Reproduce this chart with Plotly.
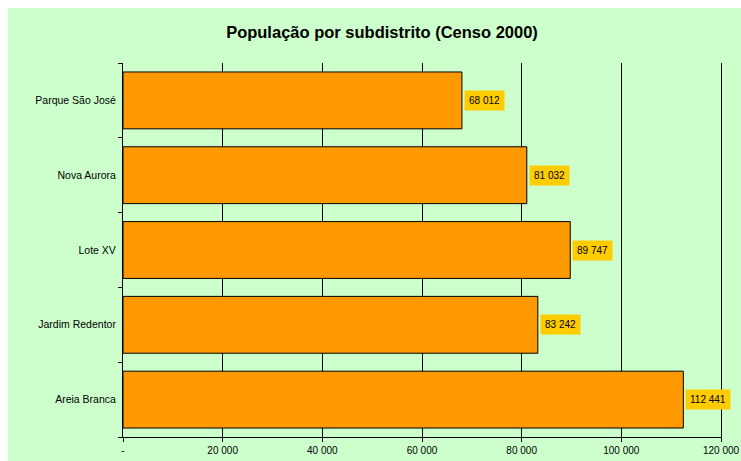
import plotly.graph_objects as go

# data (bottom to top)
subdistritos = ["Areia Branca", "Jardim Redentor", "Lote XV", "Nova Aurora", "Parque São José"]
populacao = [112441, 83242, 89747, 81032, 68012]
tick_vals = [0, 20000, 40000, 60000, 80000, 100000, 120000]
tick_text = ["-", "20 000", "40 000", "60 000", "80 000", "100 000", "120 000"]


def fmt(v):
    return f"{v:,}".replace(",", " ")


fig = go.Figure()

fig.add_trace(go.Bar(
    x=populacao,
    y=subdistritos,
    orientation="h",
    marker=dict(color="#FF9900", line=dict(color="black", width=1)),
    hoverinfo="x+y",
    showlegend=False
))

# data labels in yellow boxes
for v, name in zip(populacao, subdistritos):
    fig.add_annotation(
        x=v, y=name, xref="x", yref="y",
        text=fmt(v),
        showarrow=False,
        xanchor="left",
        xshift=2,
        bgcolor="#FFCC00",
        borderpad=4,
        font=dict(size=10, color="black")
    )

# green chart area, leaving a thin white strip at top and left
fig.add_shape(
    type="rect", xref="paper", yref="paper", layer="below",
    x0=-115 / 598, x1=1 + 20 / 598, y0=-24 / 374, y1=1 + 55 / 374,
    fillcolor="#CCFFCC", line=dict(width=0)
)

fig.update_layout(
    width=741,
    height=461,
    margin=dict(l=123, r=20, t=63, b=24, autoexpand=False),
    paper_bgcolor="white",
    plot_bgcolor="#CCFFCC",
    font=dict(family="Liberation Sans, Arial, sans-serif", size=11, color="black"),
    title=dict(
        text="<b>População por subdistrito (Censo 2000)</b>",
        x=382 / 741, xanchor="center",
        y=1 - 32 / 461, yanchor="middle",
        font=dict(size=16.5, color="black")
    ),
    bargap=0.24,
    xaxis=dict(
        range=[0, 120000],
        tickvals=tick_vals,
        ticktext=tick_text,
        showgrid=True,
        gridcolor="black",
        gridwidth=1,
        zeroline=False,
        showline=True,
        linecolor="black",
        linewidth=1,
        ticks="outside",
        ticklen=4,
        tickcolor="black",
        tickfont=dict(size=10),
        ticklabeloverflow="allow"
    ),
    yaxis=dict(
        showgrid=False,
        zeroline=False,
        showline=True,
        mirror=True,  # right edge line = 120 000 gridline
        linecolor="black",
        linewidth=1,
        ticks="outside",
        tickson="boundaries",
        ticklen=4,
        tickcolor="black",
        ticklabelstandoff=4,
        tickfont=dict(size=10.5)
    )
)

# figure fills the whole window, so drop the default body margin
fig.write_html(
    "out.html",
    config={"displayModeBar": False},
    post_script="document.body.style.margin='0';document.body.style.overflow='hidden';"
)
